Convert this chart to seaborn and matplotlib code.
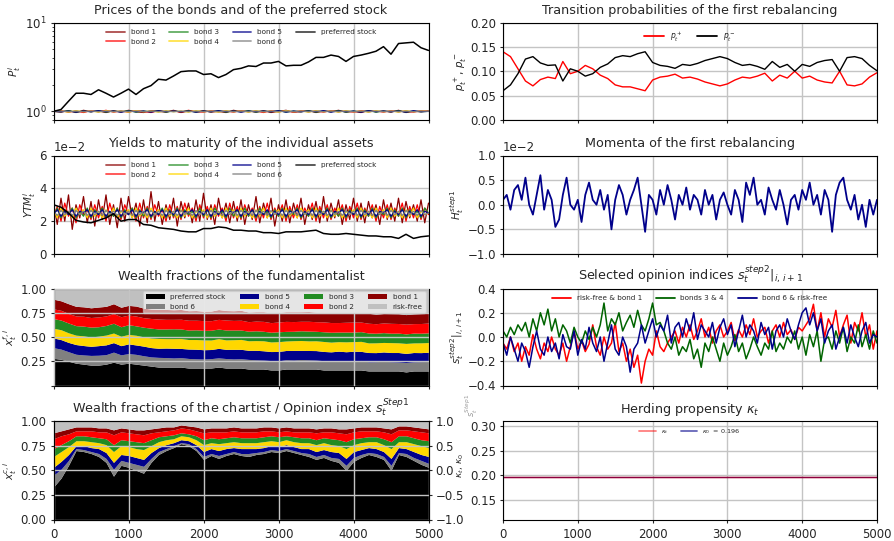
import numpy as np
import matplotlib
matplotlib.use("Agg")
import matplotlib.pyplot as plt
from matplotlib.ticker import NullFormatter
import seaborn as sns

# ---------------- data (t = 0 .. 5000) ----------------
# preferred stock price, every 100 steps
price_pref = [1.00, 1.05, 1.30, 1.60, 1.60, 1.55, 1.75, 1.60, 1.45, 1.60,
              1.78, 1.55, 1.80, 1.95, 2.30, 2.25, 2.50, 2.80, 2.85, 2.85,
              2.60, 2.65, 2.40, 2.60, 2.95, 3.05, 3.25, 3.20, 3.50, 3.50,
              3.65, 3.25, 3.30, 3.30, 3.60, 4.05, 4.05, 4.30, 4.15, 3.65,
              4.15, 4.30, 4.50, 4.75, 5.35, 4.40, 5.80, 5.90, 6.00, 5.20,
              4.85]
# bond prices, every 100 steps
price_bond1 = [1.00, 0.98, 1.02, 0.97, 1.03, 0.99, 1.01, 0.97, 1.02, 0.98,
               1.03, 0.99, 0.97, 1.02, 1.00, 0.98, 1.03, 0.97, 1.01, 0.99,
               1.02, 0.98, 1.00, 0.97, 1.03, 0.99, 1.01, 0.98, 1.02, 0.97,
               1.00, 1.03, 0.98, 0.99, 1.02, 0.97, 1.01, 0.99, 1.03, 0.98,
               1.00, 0.97, 1.02, 0.99, 1.01, 0.98, 1.03, 0.97, 1.00, 0.99,
               1.01]
price_bond2 = [1.00, 1.02, 0.98, 1.01, 0.97, 1.02, 0.99, 1.03, 0.98, 1.01,
               0.98, 1.02, 1.00, 0.97, 1.02, 0.99, 1.01, 0.98, 1.03, 0.99,
               0.98, 1.02, 0.99, 1.01, 0.98, 1.02, 0.99, 1.01, 0.97, 1.02,
               0.99, 1.01, 0.98, 1.02, 0.99, 1.01, 0.98, 1.02, 0.99, 1.01,
               0.98, 1.02, 0.99, 1.01, 0.98, 1.02, 0.99, 1.01, 0.98, 1.02,
               1.00]
price_bond3 = [1.00, 0.99, 1.02, 0.98, 1.01, 0.99, 1.02, 0.98, 1.01, 0.99,
               1.02, 0.98, 1.01, 0.99, 1.02, 0.98, 1.01, 0.99, 1.02, 0.98,
               1.01, 0.99, 1.02, 0.98, 1.01, 0.99, 1.02, 0.98, 1.01, 0.99,
               1.02, 0.98, 1.01, 0.99, 1.02, 0.98, 1.01, 0.99, 1.02, 0.98,
               1.01, 0.99, 1.02, 0.98, 1.01, 0.99, 1.02, 0.98, 1.01, 0.99,
               1.00]
price_bond4 = [1.00, 1.01, 0.98, 1.02, 0.99, 1.01, 0.98, 1.02, 0.99, 1.01,
               0.98, 1.02, 0.99, 1.01, 0.98, 1.02, 0.99, 1.01, 0.98, 1.02,
               0.99, 1.01, 0.98, 1.02, 0.99, 1.01, 0.98, 1.02, 0.99, 1.01,
               0.98, 1.02, 0.99, 1.01, 0.98, 1.02, 0.99, 1.01, 0.98, 1.02,
               0.99, 1.01, 0.98, 1.02, 0.99, 1.01, 0.98, 1.02, 0.99, 1.01,
               1.00]
price_bond5 = [1.00, 0.99, 1.01, 0.98, 1.01, 0.99, 1.02, 0.99, 1.01, 0.98,
               1.01, 0.99, 1.01, 0.98, 1.02, 0.99, 1.01, 0.99, 1.01, 0.98,
               1.01, 0.99, 1.02, 0.99, 1.01, 0.98, 1.01, 0.99, 1.01, 0.99,
               1.02, 0.98, 1.01, 0.99, 1.01, 0.99, 1.02, 0.98, 1.01, 0.99,
               1.01, 0.98, 1.02, 0.99, 1.01, 0.99, 1.01, 0.98, 1.02, 0.99,
               1.00]
price_bond6 = [1.00, 1.01, 0.99, 1.01, 0.99, 1.01, 0.99, 1.01, 0.99, 1.01,
               0.99, 1.01, 0.99, 1.01, 0.99, 1.01, 0.99, 1.01, 0.99, 1.01,
               0.99, 1.01, 0.99, 1.01, 0.99, 1.01, 0.99, 1.01, 0.99, 1.01,
               0.99, 1.01, 0.99, 1.01, 0.99, 1.01, 0.99, 1.01, 0.99, 1.01,
               0.99, 1.01, 0.99, 1.01, 0.99, 1.01, 0.99, 1.01, 0.99, 1.01,
               1.00]

# yields to maturity in percent (axis shows 1e-2)
ytm_pref_pct = [3.00, 2.85, 2.50, 2.05, 1.95, 1.90, 2.05, 2.20, 2.45, 2.00,
                2.10, 2.10, 1.80, 1.75, 1.60, 1.55, 1.50, 1.40, 1.35, 1.35,
                1.55, 1.55, 1.65, 1.60, 1.45, 1.45, 1.40, 1.40, 1.30, 1.30,
                1.25, 1.35, 1.35, 1.35, 1.40, 1.45, 1.25, 1.20, 1.20, 1.25,
                1.20, 1.15, 1.10, 1.10, 1.05, 1.05, 0.95, 1.20, 0.95, 1.05,
                1.10]
ytm_bond1_pct = [3.1, 1.8, 3.4, 2.0, 3.6, 1.5, 3.0, 2.2, 3.5, 1.9,
                 3.2, 1.7, 3.3, 2.1, 3.6, 1.8, 3.0, 1.6, 3.4, 2.0,
                 3.5, 2.2, 3.1, 1.7, 3.3, 1.9, 3.8, 2.0, 3.2, 1.8,
                 3.0, 2.1, 3.4, 1.7, 3.2, 2.2, 3.1, 1.9, 3.3, 2.0,
                 3.7, 2.1, 3.0, 1.8, 3.4, 2.2, 3.1, 1.9, 3.2, 2.0,
                 3.3, 1.8, 3.0, 2.1, 3.5, 1.9, 3.1, 2.2, 3.4, 1.7,
                 3.0, 2.0, 3.3, 1.9, 3.1, 2.2, 3.4, 1.8, 3.0, 2.1,
                 3.2, 1.9, 3.5, 2.0, 3.1, 2.2, 3.3, 1.8, 3.0, 2.1,
                 3.4, 2.0, 3.1, 1.9, 3.2, 2.2, 3.0, 1.8, 3.3, 2.1,
                 3.1, 2.0, 3.4, 1.9, 3.2, 2.2, 3.0, 2.0, 3.3, 1.9,
                 3.1]
ytm_bond2_pct = [2.2, 2.9, 2.0, 3.1, 2.3, 2.8, 1.9, 3.0, 2.4, 2.7,
                 2.1, 3.0, 2.2, 2.9, 2.0, 3.1, 2.3, 2.8, 2.1, 3.0,
                 2.4, 2.8, 2.0, 3.1, 2.2, 2.9, 2.1, 3.0, 2.3, 2.7,
                 2.0, 3.0, 2.2, 2.9, 2.1, 3.1, 2.3, 2.8, 2.0, 3.0,
                 2.2, 2.9, 2.1, 3.0, 2.3, 2.8, 2.0, 3.1, 2.2, 2.9,
                 2.1, 3.0, 2.3, 2.8, 2.0, 2.9, 2.2, 3.1, 2.1, 2.8,
                 2.3, 3.0, 2.0, 2.9, 2.2, 3.0, 2.1, 2.8, 2.3, 3.1,
                 2.0, 2.9, 2.2, 3.0, 2.1, 2.8, 2.3, 3.0, 2.0, 2.9,
                 2.2, 3.1, 2.1, 2.8, 2.3, 3.0, 2.0, 2.9, 2.2, 3.0,
                 2.1, 2.8, 2.3, 3.1, 2.0, 2.9, 2.2, 3.0, 2.1, 2.8,
                 2.4]
ytm_bond3_pct = [2.3, 2.8, 2.2, 2.7, 2.4, 2.8, 2.2, 2.6, 2.3, 2.8,
                 2.2, 2.7, 2.4, 2.8, 2.2, 2.6, 2.3, 2.8, 2.2, 2.7,
                 2.4, 2.8, 2.2, 2.7, 2.3, 2.8, 2.2, 2.6, 2.4, 2.8,
                 2.2, 2.7, 2.3, 2.8, 2.2, 2.7, 2.4, 2.6, 2.2, 2.8,
                 2.3, 2.7, 2.2, 2.8, 2.4, 2.6, 2.2, 2.8, 2.3, 2.7,
                 2.2, 2.8, 2.3, 2.7, 2.2, 2.8, 2.4, 2.6, 2.2, 2.7,
                 2.3, 2.8, 2.2, 2.7, 2.4, 2.8, 2.2, 2.6, 2.3, 2.8,
                 2.2, 2.7, 2.4, 2.8, 2.2, 2.6, 2.3, 2.8, 2.2, 2.7,
                 2.4, 2.8, 2.2, 2.7, 2.3, 2.8, 2.2, 2.6, 2.4, 2.8,
                 2.2, 2.7, 2.3, 2.8, 2.2, 2.7, 2.4, 2.6, 2.2, 2.8,
                 2.5]
ytm_bond4_pct = [2.7, 2.2, 2.8, 2.3, 2.6, 2.2, 2.8, 2.4, 2.7, 2.2,
                 2.8, 2.3, 2.6, 2.2, 2.7, 2.3, 2.8, 2.2, 2.6, 2.4,
                 2.7, 2.2, 2.8, 2.3, 2.6, 2.2, 2.8, 2.4, 2.7, 2.2,
                 2.8, 2.3, 2.6, 2.2, 2.7, 2.3, 2.8, 2.2, 2.6, 2.4,
                 2.7, 2.2, 2.8, 2.3, 2.6, 2.2, 2.8, 2.4, 2.7, 2.2,
                 2.8, 2.3, 2.6, 2.2, 2.7, 2.3, 2.8, 2.2, 2.6, 2.4,
                 2.7, 2.2, 2.8, 2.3, 2.6, 2.2, 2.8, 2.4, 2.7, 2.2,
                 2.8, 2.3, 2.6, 2.2, 2.7, 2.3, 2.8, 2.2, 2.6, 2.4,
                 2.7, 2.2, 2.8, 2.3, 2.6, 2.2, 2.8, 2.4, 2.7, 2.2,
                 2.8, 2.3, 2.6, 2.2, 2.7, 2.3, 2.8, 2.2, 2.6, 2.4,
                 2.5]
ytm_bond5_pct = [2.4, 2.7, 2.3, 2.6, 2.4, 2.7, 2.3, 2.6, 2.5, 2.7,
                 2.3, 2.6, 2.4, 2.7, 2.3, 2.6, 2.4, 2.7, 2.3, 2.6,
                 2.4, 2.7, 2.3, 2.6, 2.5, 2.7, 2.3, 2.6, 2.4, 2.7,
                 2.3, 2.6, 2.4, 2.7, 2.3, 2.6, 2.5, 2.7, 2.3, 2.6,
                 2.4, 2.7, 2.3, 2.6, 2.4, 2.7, 2.3, 2.6, 2.5, 2.7,
                 2.3, 2.6, 2.4, 2.7, 2.3, 2.6, 2.4, 2.7, 2.3, 2.6,
                 2.4, 2.7, 2.3, 2.6, 2.5, 2.7, 2.3, 2.6, 2.4, 2.7,
                 2.3, 2.6, 2.4, 2.7, 2.3, 2.6, 2.5, 2.7, 2.3, 2.6,
                 2.4, 2.7, 2.3, 2.6, 2.4, 2.7, 2.3, 2.6, 2.5, 2.7,
                 2.3, 2.6, 2.4, 2.7, 2.3, 2.6, 2.4, 2.7, 2.3, 2.6,
                 2.5]
ytm_bond6_pct = [2.6, 2.35, 2.65, 2.4, 2.6, 2.35, 2.65, 2.4, 2.6, 2.35,
                 2.65, 2.4, 2.6, 2.35, 2.65, 2.4, 2.6, 2.35, 2.65, 2.4,
                 2.6, 2.35, 2.65, 2.4, 2.6, 2.35, 2.65, 2.4, 2.6, 2.35,
                 2.65, 2.4, 2.6, 2.35, 2.65, 2.4, 2.6, 2.35, 2.65, 2.4,
                 2.6, 2.35, 2.65, 2.4, 2.6, 2.35, 2.65, 2.4, 2.6, 2.35,
                 2.65, 2.4, 2.6, 2.35, 2.65, 2.4, 2.6, 2.35, 2.65, 2.4,
                 2.6, 2.35, 2.65, 2.4, 2.6, 2.35, 2.65, 2.4, 2.6, 2.35,
                 2.65, 2.4, 2.6, 2.35, 2.65, 2.4, 2.6, 2.35, 2.65, 2.4,
                 2.6, 2.35, 2.65, 2.4, 2.6, 2.35, 2.65, 2.4, 2.6, 2.35,
                 2.65, 2.4, 2.6, 2.35, 2.65, 2.4, 2.6, 2.35, 2.65, 2.4,
                 2.5]

# wealth fractions of the fundamentalist, every 100 steps
fund_pref = [0.28, 0.27, 0.25, 0.23, 0.22, 0.21, 0.21, 0.22, 0.24, 0.22,
             0.23, 0.22, 0.21, 0.20, 0.19, 0.19, 0.19, 0.19, 0.18, 0.18,
             0.18, 0.18, 0.19, 0.18, 0.18, 0.18, 0.17, 0.17, 0.17, 0.16,
             0.16, 0.17, 0.17, 0.17, 0.17, 0.17, 0.16, 0.16, 0.16, 0.16,
             0.16, 0.16, 0.15, 0.15, 0.15, 0.15, 0.15, 0.14, 0.15, 0.15,
             0.15]
fund_bond6 = [0.110, 0.105, 0.098, 0.092, 0.095, 0.100, 0.102, 0.098, 0.104, 0.096,
              0.099, 0.101, 0.097, 0.095, 0.100, 0.098, 0.094, 0.097, 0.099, 0.095,
              0.093, 0.097, 0.095, 0.098, 0.094, 0.096, 0.099, 0.095, 0.092, 0.097,
              0.094, 0.096, 0.093, 0.098, 0.095, 0.092, 0.096, 0.094, 0.097, 0.093,
              0.095, 0.098, 0.094, 0.096, 0.099, 0.095, 0.092, 0.097, 0.094, 0.096,
              0.098]
fund_bond5 = [0.100, 0.098, 0.096, 0.100, 0.097, 0.094, 0.099, 0.101, 0.098, 0.095,
              0.100, 0.097, 0.099, 0.096, 0.094, 0.098, 0.100, 0.095, 0.097, 0.099,
              0.096, 0.094, 0.098, 0.095, 0.099, 0.097, 0.094, 0.098, 0.096, 0.093,
              0.097, 0.095, 0.099, 0.094, 0.096, 0.098, 0.095, 0.093, 0.097, 0.095,
              0.098, 0.094, 0.096, 0.093, 0.097, 0.095, 0.098, 0.094, 0.096, 0.093,
              0.095]
fund_bond4 = [0.100, 0.102, 0.099, 0.097, 0.100, 0.096, 0.098, 0.101, 0.099, 0.097,
              0.098, 0.100, 0.096, 0.099, 0.101, 0.097, 0.099, 0.102, 0.098, 0.100,
              0.101, 0.098, 0.100, 0.097, 0.099, 0.102, 0.098, 0.100, 0.103, 0.099,
              0.101, 0.098, 0.100, 0.102, 0.099, 0.101, 0.103, 0.100, 0.098, 0.102,
              0.100, 0.103, 0.099, 0.101, 0.098, 0.102, 0.100, 0.103, 0.099, 0.101,
              0.100]
fund_bond3 = [0.100, 0.099, 0.101, 0.098, 0.100, 0.102, 0.097, 0.099, 0.101, 0.098,
              0.100, 0.097, 0.099, 0.101, 0.098, 0.100, 0.102, 0.099, 0.097, 0.100,
              0.098, 0.101, 0.099, 0.102, 0.100, 0.097, 0.099, 0.101, 0.098, 0.100,
              0.102, 0.099, 0.097, 0.100, 0.101, 0.098, 0.100, 0.102, 0.099, 0.101,
              0.098, 0.100, 0.102, 0.099, 0.101, 0.097, 0.100, 0.098, 0.101, 0.099,
              0.100]
fund_bond2 = [0.100, 0.101, 0.098, 0.100, 0.102, 0.099, 0.101, 0.098, 0.100, 0.103,
              0.099, 0.101, 0.098, 0.100, 0.102, 0.099, 0.097, 0.100, 0.102, 0.099,
              0.101, 0.098, 0.100, 0.103, 0.099, 0.101, 0.098, 0.100, 0.102, 0.099,
              0.101, 0.103, 0.100, 0.098, 0.101, 0.099, 0.102, 0.100, 0.098, 0.101,
              0.103, 0.099, 0.101, 0.098, 0.100, 0.102, 0.099, 0.101, 0.098, 0.100,
              0.101]
fund_bond1 = [0.100, 0.098, 0.101, 0.099, 0.097, 0.100, 0.102, 0.099, 0.101, 0.098,
              0.100, 0.103, 0.099, 0.097, 0.100, 0.102, 0.099, 0.101, 0.098, 0.100,
              0.097, 0.099, 0.101, 0.098, 0.100, 0.102, 0.099, 0.097, 0.100, 0.101,
              0.098, 0.100, 0.102, 0.099, 0.101, 0.098, 0.100, 0.097, 0.099, 0.101,
              0.098, 0.100, 0.102, 0.099, 0.097, 0.100, 0.101, 0.098, 0.100, 0.102,
              0.099]

# wealth fractions of the chartist, every 100 steps
chart_pref = [0.33, 0.42, 0.55, 0.70, 0.69, 0.67, 0.64, 0.58, 0.44, 0.55,
              0.53, 0.50, 0.47, 0.58, 0.66, 0.70, 0.73, 0.77, 0.75, 0.70,
              0.61, 0.65, 0.62, 0.65, 0.67, 0.65, 0.64, 0.66, 0.67, 0.69,
              0.68, 0.70, 0.68, 0.66, 0.64, 0.61, 0.63, 0.60, 0.58, 0.50,
              0.59, 0.63, 0.66, 0.64, 0.61, 0.50, 0.66, 0.64, 0.60, 0.56,
              0.53]
chart_bond6 = [0.12, 0.09, 0.05, 0.02, 0.02, 0.02, 0.03, 0.04, 0.07, 0.05,
               0.05, 0.06, 0.07, 0.04, 0.03, 0.02, 0.02, 0.01, 0.02, 0.02,
               0.03, 0.02, 0.03, 0.02, 0.02, 0.02, 0.03, 0.02, 0.02, 0.02,
               0.02, 0.02, 0.02, 0.02, 0.03, 0.03, 0.03, 0.03, 0.04, 0.05,
               0.04, 0.03, 0.02, 0.03, 0.03, 0.05, 0.02, 0.03, 0.03, 0.04,
               0.04]
chart_bond5 = [0.08, 0.08, 0.06, 0.03, 0.04, 0.04, 0.05, 0.06, 0.07, 0.06,
               0.07, 0.07, 0.07, 0.06, 0.04, 0.04, 0.03, 0.03, 0.03, 0.04,
               0.05, 0.05, 0.05, 0.05, 0.04, 0.05, 0.05, 0.04, 0.04, 0.04,
               0.04, 0.04, 0.04, 0.04, 0.05, 0.05, 0.05, 0.06, 0.06, 0.07,
               0.06, 0.05, 0.05, 0.05, 0.05, 0.07, 0.05, 0.05, 0.06, 0.06,
               0.07]
chart_bond4 = [0.11, 0.10, 0.08, 0.05, 0.05, 0.06, 0.06, 0.08, 0.11, 0.09,
               0.09, 0.09, 0.10, 0.07, 0.06, 0.05, 0.04, 0.04, 0.04, 0.05,
               0.07, 0.06, 0.07, 0.06, 0.06, 0.06, 0.06, 0.06, 0.06, 0.05,
               0.05, 0.05, 0.05, 0.06, 0.06, 0.07, 0.07, 0.07, 0.07, 0.10,
               0.07, 0.07, 0.06, 0.07, 0.07, 0.10, 0.06, 0.07, 0.08, 0.09,
               0.09]
chart_bond3 = [0.08, 0.07, 0.06, 0.05, 0.05, 0.05, 0.05, 0.06, 0.07, 0.06,
               0.06, 0.07, 0.07, 0.06, 0.05, 0.04, 0.04, 0.03, 0.03, 0.04,
               0.05, 0.05, 0.05, 0.05, 0.05, 0.05, 0.05, 0.05, 0.05, 0.05,
               0.05, 0.04, 0.05, 0.05, 0.05, 0.05, 0.05, 0.06, 0.06, 0.07,
               0.06, 0.05, 0.05, 0.05, 0.06, 0.07, 0.06, 0.06, 0.06, 0.06,
               0.07]
chart_bond2 = [0.10, 0.09, 0.07, 0.05, 0.05, 0.06, 0.06, 0.07, 0.10, 0.08,
               0.08, 0.08, 0.08, 0.07, 0.05, 0.05, 0.05, 0.05, 0.05, 0.05,
               0.07, 0.06, 0.07, 0.06, 0.06, 0.06, 0.06, 0.06, 0.06, 0.05,
               0.05, 0.05, 0.05, 0.06, 0.06, 0.07, 0.06, 0.07, 0.07, 0.08,
               0.07, 0.07, 0.06, 0.06, 0.07, 0.08, 0.06, 0.06, 0.07, 0.08,
               0.08]
chart_bond1 = [0.06, 0.05, 0.05, 0.04, 0.04, 0.04, 0.04, 0.04, 0.05, 0.04,
               0.04, 0.04, 0.05, 0.04, 0.04, 0.04, 0.03, 0.03, 0.03, 0.04,
               0.04, 0.04, 0.04, 0.04, 0.04, 0.04, 0.04, 0.04, 0.04, 0.04,
               0.04, 0.04, 0.04, 0.04, 0.04, 0.04, 0.04, 0.04, 0.04, 0.05,
               0.04, 0.04, 0.04, 0.04, 0.04, 0.05, 0.04, 0.04, 0.04, 0.04,
               0.04]

# transition probabilities, every 100 steps
p_plus = [0.140, 0.130, 0.105, 0.080, 0.070, 0.083, 0.088, 0.085, 0.120, 0.095,
          0.100, 0.112, 0.105, 0.092, 0.085, 0.072, 0.068, 0.068, 0.064, 0.060,
          0.082, 0.088, 0.090, 0.094, 0.086, 0.088, 0.084, 0.078, 0.074, 0.070,
          0.074, 0.082, 0.088, 0.086, 0.090, 0.096, 0.080, 0.092, 0.086, 0.100,
          0.086, 0.090, 0.082, 0.078, 0.076, 0.100, 0.072, 0.070, 0.074, 0.088,
          0.097]
p_minus = [0.060, 0.072, 0.095, 0.125, 0.130, 0.117, 0.112, 0.113, 0.080, 0.105,
           0.100, 0.090, 0.095, 0.108, 0.115, 0.128, 0.132, 0.130, 0.136, 0.140,
           0.118, 0.112, 0.110, 0.106, 0.114, 0.112, 0.116, 0.122, 0.126, 0.130,
           0.126, 0.118, 0.112, 0.114, 0.110, 0.104, 0.120, 0.108, 0.114, 0.100,
           0.114, 0.110, 0.118, 0.122, 0.124, 0.100, 0.128, 0.130, 0.126, 0.112,
           0.101]

# momenta of the first rebalancing in units of 1e-2, every 50 steps
momentum_e2 = [0.10, 0.20, -0.10, 0.30, 0.40, 0.10, 0.55, 0.00, -0.20, 0.20,
               0.60, -0.10, 0.30, 0.10, -0.45, -0.30, 0.20, 0.55, 0.00, -0.10,
               0.10, -0.35, 0.20, 0.45, 0.10, 0.00, 0.30, -0.10, 0.20, -0.50,
               0.10, 0.40, 0.20, -0.20, 0.10, 0.30, 0.55, 0.00, -0.55, 0.20,
               0.10, -0.20, 0.30, 0.00, 0.40, 0.10, -0.30, 0.20, 0.00, 0.35,
               -0.10, 0.20, 0.10, -0.20, 0.30, 0.00, 0.20, -0.30, 0.10, 0.25,
               0.00, -0.20, 0.30, 0.10, -0.35, 0.45, 0.20, 0.55, 0.00, 0.10,
               -0.20, 0.35, 0.10, -0.10, 0.30, 0.00, -0.40, 0.10, 0.20, -0.10,
               0.30, 0.10, 0.45, 0.00, 0.20, -0.20, 0.30, 0.10, -0.55, 0.20,
               0.45, 0.55, 0.10, -0.10, 0.20, -0.30, 0.00, -0.45, 0.10, -0.20,
               0.10]

# selected opinion indices, every 50 steps
op_rf_b1 = [-0.05, -0.10, 0.00, -0.12, -0.05, -0.20, -0.08, -0.15, 0.02, -0.10,
            -0.18, -0.05, -0.12, 0.00, -0.10, -0.15, -0.05, -0.20, -0.08, 0.05,
            -0.10, -0.03, -0.12, -0.06, 0.10, -0.08, -0.15, 0.00, -0.10, -0.05,
            0.12, -0.12, -0.05, -0.20, -0.10, -0.25, -0.15, -0.38, -0.20, -0.10,
            -0.15, 0.05, -0.08, -0.12, -0.05, 0.00, 0.05, -0.05, 0.08, 0.00,
            0.10, -0.02, 0.05, 0.15, 0.00, 0.08, -0.05, 0.05, 0.10, 0.00,
            0.05, 0.12, -0.03, 0.06, 0.00, 0.10, 0.02, 0.15, 0.00, 0.05,
            0.08, -0.05, 0.05, 0.10, 0.00, 0.12, 0.02, 0.06, -0.02, 0.08,
            0.05, 0.10, 0.15, 0.27, 0.05, 0.20, 0.00, 0.15, 0.08, 0.22,
            0.00, 0.10, 0.18, -0.05, 0.12, 0.05, 0.20, 0.00, 0.10, -0.10,
            0.05]
op_b3_b4 = [0.05, 0.00, 0.08, 0.02, 0.10, 0.05, 0.12, 0.00, 0.15, 0.05,
            0.20, 0.10, 0.23, 0.05, 0.15, 0.00, 0.10, 0.05, -0.05, 0.08,
            0.00, -0.05, 0.05, -0.02, 0.08, 0.00, 0.10, 0.28, 0.05, 0.15,
            0.10, 0.20, 0.05, 0.12, 0.18, 0.08, 0.22, 0.10, 0.05, 0.15,
            0.28, 0.10, 0.12, 0.05, -0.05, -0.10, 0.00, -0.15, -0.08, -0.12,
            -0.02, -0.18, -0.10, -0.25, -0.05, -0.12, 0.00, -0.10, -0.20, -0.05,
            -0.15, -0.08, 0.02, -0.12, -0.05, -0.18, -0.10, 0.00, -0.08, -0.15,
            -0.05, -0.10, 0.05, -0.12, -0.05, -0.10, 0.00, -0.05, 0.05, -0.10,
            0.00, -0.15, 0.02, -0.08, 0.05, -0.20, -0.02, 0.00, -0.10, 0.05,
            -0.05, 0.08, -0.12, 0.00, -0.05, 0.10, -0.08, 0.02, -0.10, 0.05,
            -0.05]
op_b6_rf = [-0.05, -0.15, 0.00, -0.10, -0.20, -0.05, -0.12, -0.25, -0.08, 0.05,
            -0.10, -0.15, 0.00, -0.12, -0.05, -0.18, 0.02, -0.08, -0.10, 0.05,
            -0.15, -0.02, -0.10, 0.08, -0.05, -0.12, 0.00, -0.20, -0.05, 0.10,
            -0.10, -0.15, 0.00, -0.08, -0.29, -0.10, -0.05, 0.10, -0.05, 0.05,
            0.15, 0.00, 0.10, 0.05, 0.18, -0.05, 0.08, 0.12, 0.00, 0.15,
            0.05, 0.20, -0.02, 0.10, 0.05, 0.00, 0.12, -0.05, 0.08, 0.15,
            0.02, 0.10, -0.08, 0.05, 0.18, 0.00, 0.10, 0.05, -0.05, 0.12,
            0.02, 0.08, -0.10, 0.05, 0.10, 0.00, 0.15, 0.05, -0.02, 0.10,
            0.20, 0.24, 0.10, 0.20, 0.05, 0.15, -0.05, 0.05, 0.10, -0.10,
            0.00, 0.08, -0.05, 0.10, 0.00, -0.08, 0.05, 0.12, -0.05, 0.02,
            0.00]

# herding propensity
kappa_t = [0.196, 0.196, 0.196, 0.196, 0.196, 0.196]
kappa_0 = 0.196

bond_names = ["bond 1", "bond 2", "bond 3", "bond 4", "bond 5", "bond 6"]
bond_colors = ["darkred", "red", "forestgreen", "gold", "darkblue", "grey"]


def tgrid(values):
    return np.linspace(0, 5000, len(values))


# ---------------- styling ----------------
sns.set_style("ticks")
plt.rcParams["font.family"] = ["DejaVu Sans"]
plt.rcParams["mathtext.fontset"] = "dejavusans"
plt.rcParams["axes.edgecolor"] = "black"
plt.rcParams["axes.linewidth"] = 0.8
plt.rcParams["xtick.major.size"] = 2.5
plt.rcParams["ytick.major.size"] = 2.5
plt.rcParams["xtick.minor.size"] = 1.5
plt.rcParams["ytick.minor.size"] = 1.5
plt.rcParams["ytick.major.pad"] = 2.5
plt.rcParams["xtick.labelsize"] = 8.5
plt.rcParams["ytick.labelsize"] = 8.5
plt.rcParams["axes.titlesize"] = 9.2
plt.rcParams["axes.labelsize"] = 7.5
plt.rcParams["axes.labelpad"] = 1.0
plt.rcParams["axes.formatter.use_mathtext"] = False

fig = plt.figure(figsize=(8.94, 5.41), dpi=100)
W, H = 894.0, 541.0


def box(x0, x1, y0, y1):
    return [x0 / W, 1 - y1 / H, (x1 - x0) / W, (y1 - y0) / H]


cols = [(53.5, 428.5), (503, 877)]
rows = [(22.5, 120), (155.5, 254), (288.5, 385.5), (421, 519.5)]
axes = [[fig.add_axes(box(c[0], c[1], r[0], r[1])) for c in cols] for r in rows]

for i, row in enumerate(axes):
    for ax in row:
        ax.set_xlim(0, 5000)
        ax.set_xticks(range(0, 5001, 1000))
        ax.grid(True, color="#c4c4c4", lw=1.0)
        if i < 3:
            ax.tick_params(axis="x", labelbottom=False)


def line(ax, x, y, color, lw=1.0, label=None, **kw):
    sns.lineplot(x=x, y=y, ax=ax, color=color, lw=lw, label=label,
                 estimator=None, **kw)


def small_legend(ax, ncol, fs=5.2, alpha=None, **kw):
    leg = ax.legend(ncol=ncol, loc="upper center", frameon=False,
                    fontsize=fs, columnspacing=1.9, handlelength=2.6, **kw)
    for h in leg.legend_handles:
        h.set_linewidth(1.3)
        if alpha is not None:
            h.set_alpha(alpha)
    return leg


# ---- prices ----
ax = axes[0][0]
bond_prices = [price_bond1, price_bond2, price_bond3, price_bond4, price_bond5, price_bond6]
for vals, name, col in zip(bond_prices, bond_names, bond_colors):
    line(ax, tgrid(vals), vals, col, lw=0.8, label=name)
line(ax, tgrid(price_pref), price_pref, "black", lw=1.1, label="preferred stock")
ax.set_yscale("log")
ax.set_ylim(0.8, 10)
ax.yaxis.set_minor_formatter(NullFormatter())
ax.set_ylabel(r"$P_t^i$")
ax.set_title("Prices of the bonds and of the preferred stock")
small_legend(ax, 4, alpha=0.7)

# ---- yields ----
ax = axes[1][0]
ytms = [ytm_bond1_pct, ytm_bond2_pct, ytm_bond3_pct, ytm_bond4_pct, ytm_bond5_pct, ytm_bond6_pct]
for vals, name, col in zip(ytms, bond_names, bond_colors):
    line(ax, tgrid(vals), np.array(vals) / 100, col, lw=0.9, label=name)
line(ax, tgrid(ytm_pref_pct), np.array(ytm_pref_pct) / 100, "black", lw=1.1,
     label="preferred stock")
ax.set_ylim(0, 0.06)
ax.set_yticks([0, 0.02, 0.04, 0.06])
ax.ticklabel_format(axis="y", style="sci", scilimits=(0, 0))
ax.yaxis.get_offset_text().set_fontsize(8.5)
ax.set_ylabel(r"$YTM_t^i$")
ax.set_title("Yields to maturity of the individual assets")
small_legend(ax, 4, alpha=0.7)

# ---- fundamentalist wealth fractions ----
stack_labels = ["preferred stock", "bond 6", "bond 5", "bond 4", "bond 3",
                "bond 2", "bond 1", "risk-free"]
stack_colors = ["black", "grey", "darkblue", "gold", "forestgreen", "red",
                "darkred", "silver"]

ax = axes[2][0]
fund_parts = [fund_pref, fund_bond6, fund_bond5, fund_bond4, fund_bond3,
              fund_bond2, fund_bond1]
fund_rf = 1 - np.sum(np.array(fund_parts), axis=0)
ax.stackplot(tgrid(fund_pref), *fund_parts, fund_rf, colors=stack_colors,
             labels=stack_labels, lw=0)
ax.set_axisbelow(False)
ax.set_ylim(0, 1)
ax.set_yticks([0, 0.25, 0.5, 0.75, 1.0])
ax.set_yticklabels(["", "0.25", "0.50", "0.75", "1.00"])
ax.set_ylabel(r"$x_t^{f,i}$")
ax.set_title("Wealth fractions of the fundamentalist")
ax.legend(ncol=4, loc="upper right", fontsize=5.2, frameon=True, framealpha=0.6,
          facecolor="white", edgecolor="0.8", columnspacing=2.0, handlelength=2.6,
          borderaxespad=0.4)

# ---- chartist wealth fractions ----
ax = axes[3][0]
chart_parts = [chart_pref, chart_bond6, chart_bond5, chart_bond4, chart_bond3,
               chart_bond2, chart_bond1]
chart_rf = 1 - np.sum(np.array(chart_parts), axis=0)
ax.stackplot(tgrid(chart_pref), *chart_parts, chart_rf, colors=stack_colors, lw=0)
ax.set_axisbelow(False)
ax.set_ylim(0, 1)
ax.set_yticks([0, 0.25, 0.5, 0.75, 1.0])
ax.set_ylabel(r"$x_t^{c,i}$")
ax.set_title(r"Wealth fractions of the chartist / Opinion index $s_t^{Step1}$")
twin = ax.twinx()
twin.set_ylim(-1, 1)
twin.set_yticks([-1, -0.5, 0, 0.5, 1])
twin.tick_params(labelsize=8.5)
twin.set_ylabel(r"$s_t^{Step1}$", color="#9a9a9a", fontsize=6)
twin.yaxis.set_label_coords(1.093, 1.162)

# ---- transition probabilities ----
ax = axes[0][1]
line(ax, tgrid(p_plus), p_plus, "red", label=r"$p_t^+$")
line(ax, tgrid(p_minus), p_minus, "black", label=r"$p_t^-$")
ax.set_ylim(0, 0.2)
ax.set_yticks([0, 0.05, 0.10, 0.15, 0.20])
ax.set_ylabel(r"$p_t^+,\,p_t^-$")
ax.set_title("Transition probabilities of the first rebalancing")
small_legend(ax, 2, fs=5.5)

# ---- momenta ----
ax = axes[1][1]
line(ax, tgrid(momentum_e2), np.array(momentum_e2) / 100, "darkblue", lw=1.3)
ax.set_ylim(-0.01, 0.01)
ax.set_yticks([-0.01, -0.005, 0, 0.005, 0.01])
ax.ticklabel_format(axis="y", style="sci", scilimits=(0, 0))
ax.yaxis.get_offset_text().set_fontsize(8.5)
ax.set_ylabel(r"$H_t^{step1}$")
ax.set_title("Momenta of the first rebalancing")

# ---- opinion indices ----
ax = axes[2][1]
line(ax, tgrid(op_rf_b1), op_rf_b1, "red", lw=1.1, label="risk-free & bond 1")
line(ax, tgrid(op_b3_b4), op_b3_b4, "darkgreen", lw=1.1, label="bonds 3 & 4")
line(ax, tgrid(op_b6_rf), op_b6_rf, "darkblue", lw=1.1, label="bond 6 & risk-free")
ax.set_ylim(-0.4, 0.4)
ax.set_yticks([-0.4, -0.2, 0, 0.2, 0.4])
ax.set_ylabel(r"$s_t^{step2}|_{i,\,i+1}$")
ax.set_title(r"Selected opinion indices $s_t^{step2}|_{i,\,i+1}$")
small_legend(ax, 3, fs=5.2)

# ---- herding propensity ----
ax = axes[3][1]
line(ax, tgrid(kappa_t), kappa_t, "red", label=r"$\kappa_t$")
line(ax, [0, 5000], [kappa_0, kappa_0], "darkblue", alpha=0.45,
     label=r"$\kappa_0\ =\ 0.196$")
ax.set_ylim(0.11, 0.31)
ax.set_yticks([0.15, 0.20, 0.25, 0.30])
ax.set_ylabel(r"$\kappa_t,\,\kappa_0$", fontsize=6.5)
ax.yaxis.set_label_coords(-0.1, 0.55)
ax.set_title(r"Herding propensity $\kappa_t$")
leg = small_legend(ax, 2, fs=4.6)
leg.legend_handles[0].set_alpha(0.5)
leg.legend_handles[1].set_alpha(0.6)

fig.savefig("out.png", dpi=100)
